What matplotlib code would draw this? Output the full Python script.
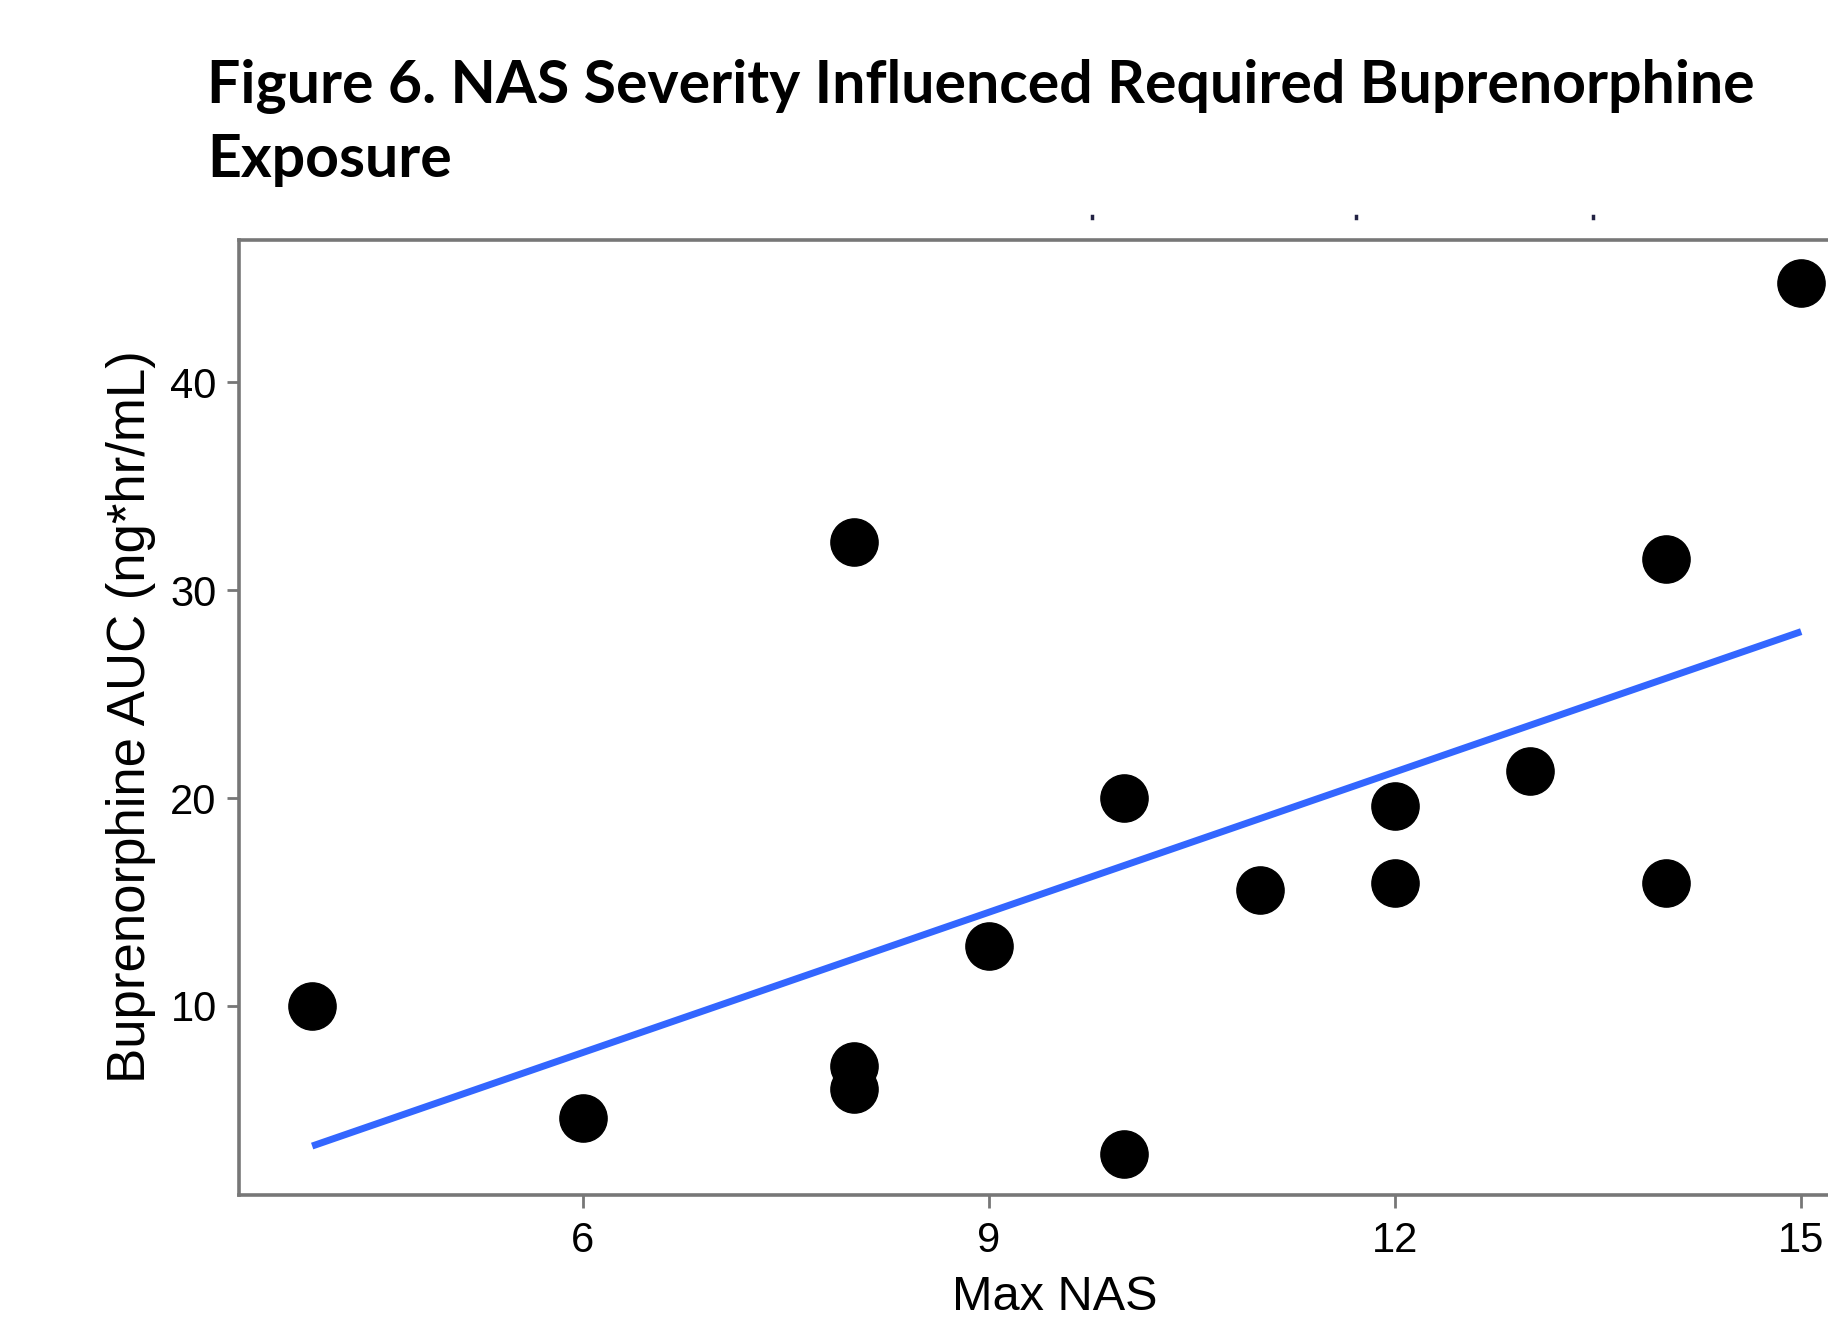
import numpy as np
import matplotlib
matplotlib.use('Agg')
import matplotlib.pyplot as plt
from matplotlib.lines import Line2D

# Max NAS score vs buprenorphine exposure
max_nas = [4, 6, 8, 8, 8, 9, 10, 10, 11, 12, 12, 13, 14, 14, 15]
auc = [10.0, 4.6, 32.3, 7.1, 6.0, 12.9, 20.0, 2.9, 15.6, 19.6, 15.9, 21.3, 31.5, 15.9, 44.8]
x_ticks = [6, 9, 12, 15]
y_ticks = [10, 20, 30, 40]

title_1 = 'Figure 6. NAS Severity Influenced Required Buprenorphine'
title_2 = 'Exposure'


def main():
    fig = plt.figure(figsize=(18.28, 13.32), dpi=100)
    ax = fig.add_axes([0.1307, 0.1029, 0.8693, 0.7168])

    # linear fit, like geom_smooth(method='lm', se=FALSE)
    slope, icept = np.polyfit(max_nas, auc, 1)
    xs = np.array([min(max_nas), max(max_nas)])
    ax.plot(xs, slope * xs + icept, color='#3366FF', lw=5, zorder=2,
            solid_capstyle='butt')

    ax.plot(max_nas, auc, 'o', color='black', ms=34, zorder=3, clip_on=False)

    ax.set_xlim(3.459, 15.198)
    ax.set_ylim(0.91, 46.84)
    ax.set_xticks(x_ticks)
    ax.set_yticks(y_ticks)

    for side in ['left', 'bottom', 'top']:
        ax.spines[side].set_color('#777777')
        ax.spines[side].set_linewidth(2.6)
    ax.spines['right'].set_visible(False)

    ax.tick_params(axis='both', colors='#777777', length=9, width=2,
                   labelcolor='black', labelsize=30)
    ax.tick_params(axis='x', pad=10)
    ax.tick_params(axis='y', pad=7)
    for lab in ax.get_xticklabels() + ax.get_yticklabels():
        lab.set_fontfamily('Liberation Sans')

    fig.text(0.577, 0.026, 'Max NAS', ha='center', va='center',
             fontsize=35, family='Liberation Sans')
    fig.text(0.0714, 0.4617, 'Buprenorphine AUC (ng*hr/mL)', ha='center',
             va='center', rotation=90, fontsize=38, family='Liberation Sans')

    fig.text(0.1135, 1 - 0.077, title_1, ha='left', va='baseline',
             fontsize=42.5, fontweight='bold', family='Lato')
    fig.text(0.1135, 1 - 0.133, title_2, ha='left', va='baseline',
             fontsize=42.5, fontweight='bold', family='Lato')

    # stray marks above the panel
    for fx in [0.5976, 0.7417, 0.8712]:
        fig.add_artist(Line2D([fx, fx], [0.836, 0.8375], transform=fig.transFigure,
                              color='#222244', lw=2.5))

    fig.savefig('out.png', dpi=100, facecolor='white')
    plt.close(fig)


if __name__ == '__main__':
    main()
